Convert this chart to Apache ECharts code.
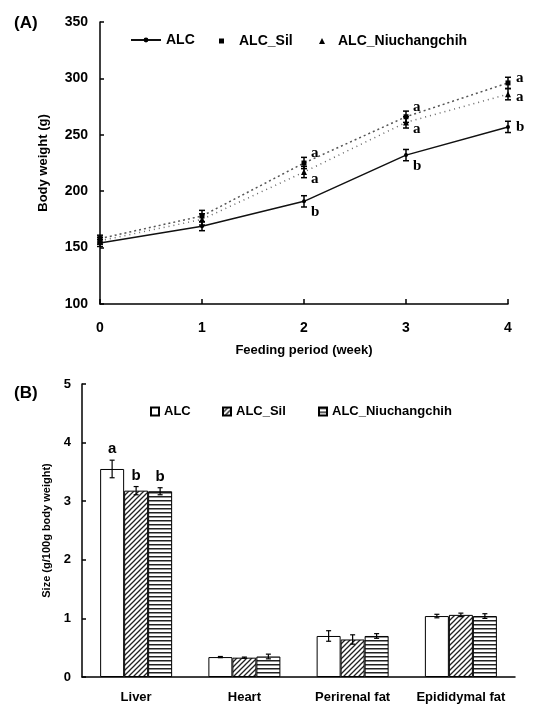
<!DOCTYPE html>
<html>
<head>
<meta charset="utf-8">
<script src="https://cdn.jsdelivr.net/npm/echarts@6/dist/echarts.min.js"></script>
<style>
  html, body { margin: 0; padding: 0; background: #fff; }
  #main { width: 541px; height: 707px; }
</style>
</head>
<body>
<div id="main"></div>
<script>
// (A) body weight
var weeks = [0, 1, 2, 3, 4];
var weightALC = [154, 169, 191, 232, 257];
var weightSil = [158, 178, 225, 266, 296];
var weightNiu = [156, 175, 217, 261, 286];
var errALC = [3, 4, 5, 5, 5];
var errSil = [3, 5, 5, 5, 5];
var errNiu = [3, 5, 5, 5, 5];
var letterALC = ['', '', 'b', 'b', 'b'];
var letterSil = ['', '', 'a', 'a', 'a'];
var letterNiu = ['', '', 'a', 'a', 'a'];

// (B) organ size
var organs = ['Liver', 'Heart', 'Perirenal fat', 'Epididymal fat'];
var sizeALC = [3.55, 0.34, 0.70, 1.04];
var sizeSil = [3.18, 0.33, 0.64, 1.06];
var sizeNiu = [3.17, 0.35, 0.70, 1.04];
var sizeErrALC = [0.15, 0.01, 0.09, 0.03];
var sizeErrSil = [0.07, 0.01, 0.08, 0.03];
var sizeErrNiu = [0.06, 0.04, 0.04, 0.04];
var sizeLetterALC = ['a', '', '', ''];
var sizeLetterSil = ['b', '', '', ''];
var sizeLetterNiu = ['b', '', '', ''];

var FONT = '"Liberation Sans", Arial, sans-serif';
var SERIF = '"Liberation Serif", "Times New Roman", serif';

// hatch patterns
function diagPattern() {
  var c = document.createElement('canvas');
  c.width = 5; c.height = 5;
  var ctx = c.getContext('2d');
  ctx.fillStyle = '#fff';
  ctx.fillRect(0, 0, 5, 5);
  ctx.strokeStyle = '#222';
  ctx.lineWidth = 1.3;
  ctx.beginPath();
  ctx.moveTo(-1, 6); ctx.lineTo(6, -1);
  ctx.moveTo(-1, 1); ctx.lineTo(1, -1);
  ctx.moveTo(4, 6); ctx.lineTo(6, 4);
  ctx.stroke();
  return c;
}
function horizPattern() {
  var c = document.createElement('canvas');
  c.width = 4; c.height = 4;
  var ctx = c.getContext('2d');
  ctx.fillStyle = '#fff';
  ctx.fillRect(0, 0, 4, 4);
  ctx.fillStyle = '#222';
  ctx.fillRect(0, 0, 4, 1.5);
  return c;
}

function ptData(vals, errs) {
  return weeks.map(function (w, i) { return [w, vals[i], errs[i]]; });
}

// error bars + letters for panel A
function errA(letters, dyMid, dyEnd) {
  return function (params, api) {
    var x = api.value(0), v = api.value(1), e = api.value(2);
    var p = api.coord([x, v]);
    var t = api.coord([x, v + e])[1];
    var b = api.coord([x, v - e])[1];
    var kids = [
      { type: 'line', shape: { x1: p[0], y1: t, x2: p[0], y2: b }, style: { stroke: '#000', lineWidth: 1.5 } },
      { type: 'line', shape: { x1: p[0] - 3, y1: t, x2: p[0] + 3, y2: t }, style: { stroke: '#000', lineWidth: 1.5 } },
      { type: 'line', shape: { x1: p[0] - 3, y1: b, x2: p[0] + 3, y2: b }, style: { stroke: '#000', lineWidth: 1.5 } }
    ];
    var L = letters[params.dataIndex];
    if (L) {
      var last = params.dataIndex === weeks.length - 1;
      kids.push({
        type: 'text',
        style: {
          text: L, x: p[0] + (last ? 8 : 7), y: p[1] + (last ? dyEnd : dyMid),
          align: 'left', verticalAlign: 'middle', fill: '#000',
          font: 'bold 15px ' + SERIF
        }
      });
    }
    return { type: 'group', children: kids };
  };
}

// error bars + letters for panel B
function errB(letters, off) {
  return function (params, api) {
    var ci = api.value(0), v = api.value(1), e = api.value(2);
    var p = api.coord([ci, v]);
    var x = p[0] + off;
    var t = api.coord([ci, v + e])[1];
    var b = api.coord([ci, v - e])[1];
    var kids = [
      { type: 'line', shape: { x1: x, y1: t, x2: x, y2: b }, style: { stroke: '#000', lineWidth: 1.2 } },
      { type: 'line', shape: { x1: x - 2.5, y1: t, x2: x + 2.5, y2: t }, style: { stroke: '#000', lineWidth: 1.2 } },
      { type: 'line', shape: { x1: x - 2.5, y1: b, x2: x + 2.5, y2: b }, style: { stroke: '#000', lineWidth: 1.2 } }
    ];
    var L = letters[params.dataIndex];
    if (L) {
      kids.push({
        type: 'text',
        style: {
          text: L, x: x, y: t - 11, align: 'center', verticalAlign: 'middle',
          fill: '#000', font: 'bold 15px ' + FONT
        }
      });
    }
    return { type: 'group', children: kids };
  };
}

function catData(vals, errs) {
  return organs.map(function (o, i) { return [i, vals[i], errs[i]]; });
}

var myChart = echarts.init(document.getElementById('main'));
var BAR_W = 24;
var axisStyle = { lineStyle: { color: '#000', width: 1.5 } };
var legendText = { color: '#000', fontWeight: 'bold', fontSize: 14, fontFamily: FONT };
var legendTextB = { color: '#000', fontWeight: 'bold', fontSize: 13, fontFamily: FONT };

var option = {
  backgroundColor: '#fff',
  animation: false,
  title: [
    { text: '(A)', left: 9, top: 10, textStyle: { fontSize: 17, fontWeight: 'bold', fontFamily: FONT, color: '#000' } },
    { text: '(B)', left: 9, top: 380, textStyle: { fontSize: 17, fontWeight: 'bold', fontFamily: FONT, color: '#000' } }
  ],
  legend: [
    { data: ['ALC'], left: 125, top: 28, itemWidth: 30, itemHeight: 6, itemGap: 0, textStyle: legendText },
    { data: [{ name: 'ALC_Sil', icon: 'rect' }], left: 214, top: 29, itemWidth: 5, itemHeight: 5,
      textStyle: Object.assign({ padding: [0, 0, 0, 10] }, legendText), itemStyle: { color: '#000' } },
    { data: [{ name: 'ALC_Niuchangchih', icon: 'triangle' }], left: 314, top: 29, itemWidth: 6, itemHeight: 6,
      textStyle: Object.assign({ padding: [0, 0, 0, 8] }, legendText), itemStyle: { color: '#000' } },
    { data: [{ name: 'ALC ', icon: 'rect' }], left: 145, top: 400, itemWidth: 8, itemHeight: 8, textStyle: legendTextB },
    { data: [{ name: 'ALC_Sil ', icon: 'rect' }], left: 217, top: 400, itemWidth: 8, itemHeight: 8, textStyle: legendTextB },
    { data: [{ name: 'ALC_Niuchangchih ', icon: 'rect' }], left: 313, top: 400, itemWidth: 8, itemHeight: 8, textStyle: legendTextB }
  ],
  grid: [
    { left: 100, top: 22, width: 408, height: 282 },
    { left: 82, top: 384, width: 433, height: 293 }
  ],
  xAxis: [
    {
      type: 'value', gridIndex: 0, min: 0, max: 4, interval: 1,
      name: 'Feeding period (week)', nameLocation: 'middle', nameGap: 40,
      nameTextStyle: { fontWeight: 'bold', fontSize: 13, fontFamily: FONT, color: '#000' },
      axisLine: axisStyle, axisTick: { inside: true, length: 5, lineStyle: { color: '#000', width: 1.5 } },
      axisLabel: { color: '#000', fontWeight: 'bold', fontSize: 14, fontFamily: FONT, margin: 17 },
      splitLine: { show: false }
    },
    {
      type: 'category', gridIndex: 1, data: organs,
      axisLine: axisStyle, axisTick: { length: 4, lineStyle: { color: '#000', width: 1.5 } },
      axisLabel: { interval: 0, color: '#000', fontWeight: 'bold', fontSize: 13, fontFamily: FONT, margin: 14 }
    }
  ],
  yAxis: [
    {
      type: 'value', gridIndex: 0, min: 100, max: 350, interval: 50,
      name: 'Body weight (g)', nameLocation: 'middle', nameGap: 50,
      nameTextStyle: { fontWeight: 'bold', fontSize: 13, fontFamily: FONT, color: '#000' },
      axisLine: { show: true, lineStyle: { color: '#000', width: 1.5 } },
      axisTick: { show: true, inside: true, length: 4, lineStyle: { color: '#000', width: 1.5 } },
      axisLabel: { color: '#000', fontWeight: 'bold', fontSize: 14, fontFamily: FONT, margin: 12 },
      splitLine: { show: false }
    },
    {
      type: 'value', gridIndex: 1, min: 0, max: 5, interval: 1,
      name: 'Size (g/100g body weight)', nameLocation: 'middle', nameGap: 26,
      nameTextStyle: { fontWeight: 'bold', fontSize: 11, fontFamily: FONT, color: '#000' },
      axisLine: { show: true, lineStyle: { color: '#000', width: 1.5 } },
      axisTick: { show: true, inside: true, length: 4, lineStyle: { color: '#000', width: 1.5 } },
      axisLabel: { color: '#000', fontWeight: 'bold', fontSize: 13, fontFamily: FONT, margin: 11 },
      splitLine: { show: false }
    }
  ],
  series: [
    {
      name: 'ALC', type: 'line', xAxisIndex: 0, yAxisIndex: 0,
      data: ptData(weightALC, errALC), symbol: 'circle', symbolSize: 4,
      itemStyle: { color: '#000' }, lineStyle: { color: '#111', width: 1.5 }
    },
    {
      name: 'ALC_Sil', type: 'line', xAxisIndex: 0, yAxisIndex: 0,
      data: ptData(weightSil, errSil), symbol: 'rect', symbolSize: 5,
      itemStyle: { color: '#000' }, lineStyle: { color: '#555', width: 1.5, type: [2, 3] }
    },
    {
      name: 'ALC_Niuchangchih', type: 'line', xAxisIndex: 0, yAxisIndex: 0,
      data: ptData(weightNiu, errNiu), symbol: 'triangle', symbolSize: 6,
      itemStyle: { color: '#000' }, lineStyle: { color: '#666', width: 1.5, type: [1, 4] }
    },
    { type: 'custom', xAxisIndex: 0, yAxisIndex: 0, z: 5, data: ptData(weightALC, errALC), renderItem: errA(letterALC, 11, 0) },
    { type: 'custom', xAxisIndex: 0, yAxisIndex: 0, z: 5, data: ptData(weightSil, errSil), renderItem: errA(letterSil, -10, -5) },
    { type: 'custom', xAxisIndex: 0, yAxisIndex: 0, z: 5, data: ptData(weightNiu, errNiu), renderItem: errA(letterNiu, 7, 3) },
    {
      name: 'ALC ', type: 'bar', xAxisIndex: 1, yAxisIndex: 1, data: sizeALC,
      barWidth: BAR_W, barGap: '0%',
      itemStyle: { color: '#fff', borderColor: '#000', borderWidth: 1 }
    },
    {
      name: 'ALC_Sil ', type: 'bar', xAxisIndex: 1, yAxisIndex: 1, data: sizeSil,
      barWidth: BAR_W, barGap: '0%',
      itemStyle: { color: { image: diagPattern(), repeat: 'repeat' }, borderColor: '#000', borderWidth: 1 }
    },
    {
      name: 'ALC_Niuchangchih ', type: 'bar', xAxisIndex: 1, yAxisIndex: 1, data: sizeNiu,
      barWidth: BAR_W, barGap: '0%',
      itemStyle: { color: { image: horizPattern(), repeat: 'repeat' }, borderColor: '#000', borderWidth: 1 }
    },
    { type: 'custom', xAxisIndex: 1, yAxisIndex: 1, z: 5, data: catData(sizeALC, sizeErrALC), renderItem: errB(sizeLetterALC, -BAR_W) },
    { type: 'custom', xAxisIndex: 1, yAxisIndex: 1, z: 5, data: catData(sizeSil, sizeErrSil), renderItem: errB(sizeLetterSil, 0) },
    { type: 'custom', xAxisIndex: 1, yAxisIndex: 1, z: 5, data: catData(sizeNiu, sizeErrNiu), renderItem: errB(sizeLetterNiu, BAR_W) }
  ]
};

if (option && typeof option === 'object') {
  myChart.setOption(option);
}
window.addEventListener('resize', function () {
  myChart.resize();
});
</script>
</body>
</html>
